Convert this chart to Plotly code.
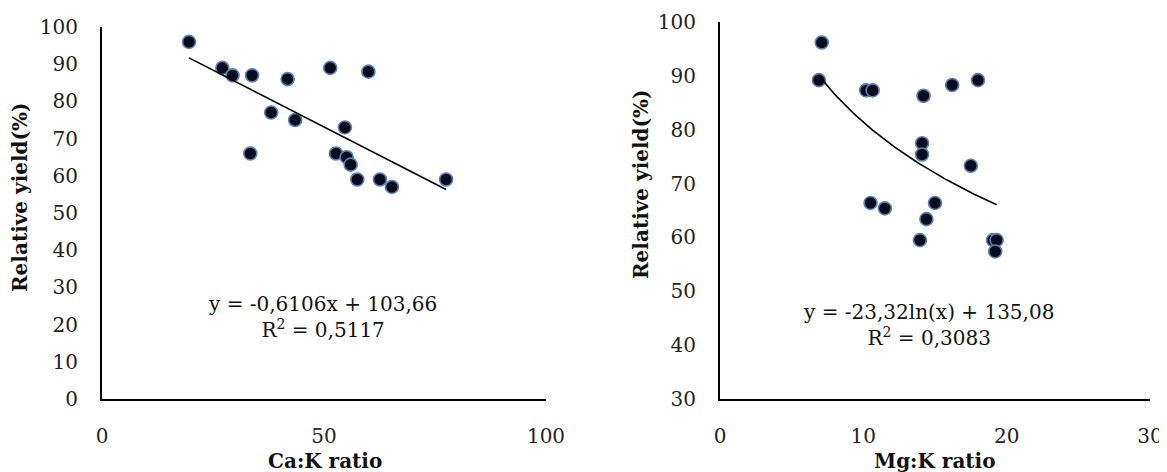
import numpy as np
import plotly.graph_objects as go

# ---- data ----
relative_yield = [96, 89, 89, 88, 87, 87, 86, 77, 75, 73, 66, 66, 65, 63, 59, 59, 59, 57]
ca_k_ratio = [19.6, 27.1, 51.4, 60.0, 29.4, 33.8, 41.8, 38.1, 43.5, 54.7, 33.4, 52.7, 55.1, 56.0, 57.5, 62.6, 77.5, 65.3]
mg_k_yield = [96.2, 89.2, 89.2, 88.3, 87.3, 87.3, 86.3, 77.5, 75.4, 73.3, 66.4, 66.4, 65.4, 63.4, 59.5, 59.5, 59.5, 57.4]
mg_k_ratio = [7.1, 6.9, 18.0, 16.2, 10.2, 10.65, 14.2, 14.1, 14.1, 17.5, 10.5, 15.0, 11.5, 14.4, 13.95, 19.05, 19.3, 19.2]

# trendline coefficients as printed on the chart
lin_slope, lin_intercept = -0.6106, 103.66
log_coef, log_intercept = -23.32, 135.08
eq_left = "y = -0,6106x + 103,66<br>R<sup>2</sup> = 0,5117"
eq_right = "y = -23,32ln(x) + 135,08<br>R<sup>2</sup> = 0,3083"

x_ticks_left = [0, 50, 100]
x_ticks_right = [0, 10, 20, 30]
y_ticks_left = list(range(0, 101, 10))
y_ticks_right = list(range(30, 101, 10))

# the page body adds an 8px offset; size the figure so it ends at the window edge
OFF = 8
W, H = 1167 - OFF, 472 - OFF
FONT = "DejaVu Serif"


def fx(p):
    return (p - OFF) / W


def fy(p):
    return 1 - (p - OFF) / H


marker = dict(size=13, color="#0a0c1c", line=dict(color="#5b80b8", width=1.6))

fig = go.Figure()
fig.add_trace(go.Scatter(x=ca_k_ratio, y=relative_yield, mode="markers",
                         marker=marker, xaxis="x", yaxis="y", showlegend=False))
xl = np.linspace(min(ca_k_ratio), max(ca_k_ratio), 50)
fig.add_trace(go.Scatter(x=xl, y=lin_slope * xl + lin_intercept, mode="lines",
                         line=dict(color="black", width=1.6), xaxis="x", yaxis="y",
                         showlegend=False))
fig.add_trace(go.Scatter(x=mg_k_ratio, y=mg_k_yield, mode="markers",
                         marker=marker, xaxis="x2", yaxis="y2", showlegend=False))
xr = np.linspace(min(mg_k_ratio), max(mg_k_ratio), 80)
fig.add_trace(go.Scatter(x=xr, y=log_coef * np.log(xr) + log_intercept, mode="lines",
                         line=dict(color="black", width=1.6), xaxis="x2", yaxis="y2",
                         showlegend=False))

ax_common = dict(showgrid=False, zeroline=False, showline=True, linecolor="black",
                 linewidth=2, ticks="", tickfont=dict(family=FONT, size=20, color="#222"))

fig.update_layout(
    width=W, height=H, margin=dict(l=0, r=0, t=0, b=0, autoexpand=False),
    paper_bgcolor="white", plot_bgcolor="white",
    xaxis=dict(domain=[fx(102), fx(546)], range=[0, 100], tickvals=x_ticks_left,
               anchor="y", ticklabelstandoff=18, **ax_common),
    yaxis=dict(domain=[fy(399), fy(27)], range=[0, 100], tickvals=y_ticks_left,
               anchor="x", ticklabelstandoff=18, **ax_common),
    xaxis2=dict(domain=[fx(720), fx(1150)], range=[0, 30], tickvals=x_ticks_right,
                anchor="y2", ticklabelstandoff=18, **ax_common),
    yaxis2=dict(domain=[fy(399), fy(22)], range=[30, 100], tickvals=y_ticks_right,
                anchor="x2", ticklabelstandoff=18, **ax_common),
)

title_font = dict(family=FONT, size=20, color="#111")
annos = [
    dict(text="<b>Ca:K ratio</b>", x=fx(325), y=fy(461)),
    dict(text="<b>Mg:K ratio</b>", x=fx(935), y=fy(461)),
    dict(text="<b>Relative yield(%)</b>", x=fx(20), y=fy(197), textangle=-90),
    dict(text="<b>Relative yield(%)</b>", x=fx(641), y=fy(184), textangle=-90),
    dict(text=eq_left, x=fx(322), y=fy(317)),
    dict(text=eq_right, x=fx(928), y=fy(325)),
]
for a in annos:
    fig.add_annotation(xref="paper", yref="paper", xanchor="center", yanchor="middle",
                       showarrow=False, font=title_font, align="center", borderpad=0, **a)

fig.write_html("out.html")
